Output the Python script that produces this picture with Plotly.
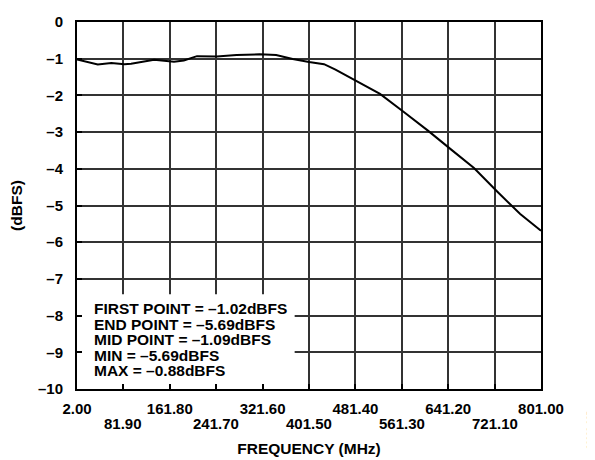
"""Frequency response plot (dBFS vs MHz)."""

import plotly.graph_objects as go

freq_mhz = [2.0, 32.7, 37.8, 61.1, 83.8, 95.2, 134.9, 169.0, 186.0, 208.6, 242.7,
            276.8, 316.6, 344.9, 373.4, 401.5, 427.4, 447.1, 487.0, 523.8, 563.7,
            606.3, 645.9, 685.6, 725.5, 765.2, 801.0]
level_dbfs = [-1.02, -1.15, -1.16, -1.12, -1.15, -1.14, -1.03, -1.08, -1.05, -0.93, -0.94,
              -0.90, -0.88, -0.90, -1.01, -1.09, -1.15, -1.30, -1.64, -1.96, -2.44,
              -2.96, -3.47, -3.98, -4.62, -5.23, -5.69]

x_ticks = [2.00, 81.90, 161.80, 241.70, 321.60, 401.50, 481.40, 561.30, 641.20, 721.10, 801.00]
y_ticks = [0, -1, -2, -3, -4, -5, -6, -7, -8, -9, -10]

stats_lines = [
    "FIRST POINT = –1.02dBFS",
    "END POINT = –5.69dBFS",
    "MID POINT = –1.09dBFS",
    "MIN = –5.69dBFS",
    "MAX = –0.88dBFS",
]
stats_y = [-7.82, -8.24, -8.66, -9.08, -9.50]

FONT = "Liberation Sans, Arial, sans-serif"
TICK_SIZE = 15
TEXT_SIZE = 15.5

# upper row of x labels on the axis, lower row placed as annotations
x_text = [f"{v:.2f}" if i % 2 == 0 else "" for i, v in enumerate(x_ticks)]
y_text = ["0" if v == 0 else f"–{abs(v)}" for v in y_ticks]

fig = go.Figure(go.Scatter(
    x=freq_mhz, y=level_dbfs, mode="lines",
    line=dict(color="black", width=2),
    showlegend=False,
))

axis_common = dict(
    showgrid=True, gridcolor="#333333", gridwidth=1.5,
    showline=True, linecolor="black", linewidth=2, mirror=True,
    ticks="inside", ticklen=5, tickwidth=1.5, tickcolor="black",
    zeroline=False, ticklabeloverflow="allow",
    tickfont=dict(family=FONT, size=TICK_SIZE, color="black", weight="bold"),
)

fig.update_xaxes(
    range=[2, 801], tickmode="array", tickvals=x_ticks, ticktext=x_text,
    ticklabelstandoff=5,
    title=dict(text="FREQUENCY (MHz)", standoff=27,
               font=dict(family=FONT, size=TEXT_SIZE, color="black", weight="bold")),
    **axis_common,
)
fig.update_yaxes(
    range=[-10, 0], tickmode="array", tickvals=y_ticks, ticktext=y_text,
    ticklabelstandoff=9,
    title=dict(text="(dBFS)", standoff=14,
               font=dict(family=FONT, size=TEXT_SIZE, color="black", weight="bold")),
    **axis_common,
)

for i, v in enumerate(x_ticks):
    if i % 2 == 1:
        fig.add_annotation(x=v, y=0, xref="x", yref="paper", text=f"{v:.2f}",
                           showarrow=False, yanchor="middle", yshift=-34,
                           font=dict(family=FONT, size=TICK_SIZE, color="black",
                                     weight="bold"))

# white box behind the stats text
fig.add_shape(type="rect", x0=5.4, x1=376.8, y0=-9.9, y1=-7.42,
              fillcolor="white", line=dict(width=0), layer="between")

for txt, yy in zip(stats_lines, stats_y):
    fig.add_annotation(x=27, y=yy, text=txt, showarrow=False,
                       xanchor="left", yanchor="middle",
                       font=dict(family=FONT, size=TEXT_SIZE, color="black", weight="bold"))

# page body adds an 8px offset, so the figure is 8px smaller and shifted
W, H = 587, 452
L, R, T, B = 64, 54, 5.5, 64.5
fig.update_layout(
    width=W, height=H,
    margin=dict(l=L, r=R, t=T, b=B),
    plot_bgcolor="white", paper_bgcolor="white",
)

# small figure code at the right edge
pw, ph = W - L - R, H - T - B
fig.add_annotation(
    x=(582 - L) / pw, y=(H - B - 430) / ph, xref="paper", yref="paper",
    text="08003-005", showarrow=False, textangle=-90,
    xanchor="center", yanchor="middle",
    font=dict(family=FONT, size=8, color="#666666"),
)

fig.write_html("out.html")
